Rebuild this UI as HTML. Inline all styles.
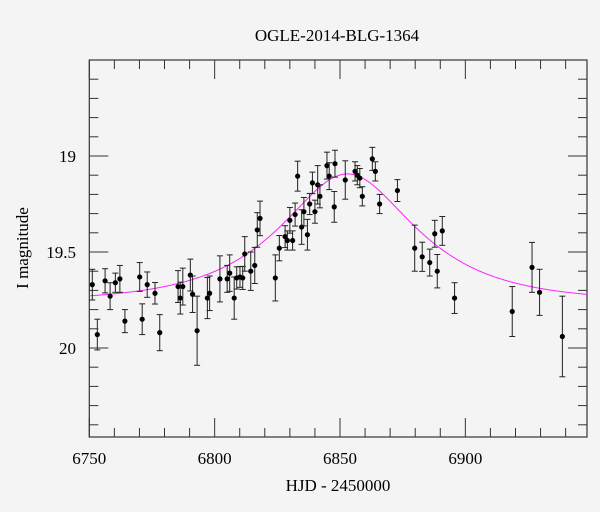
<!DOCTYPE html>
<html><head><meta charset="utf-8"><style>
body{margin:0;background:#f4f4f4;}
svg{display:block;font-family:"Liberation Serif",serif;}
</style></head><body>
<svg id="chart" width="600" height="512" viewBox="0 0 600 512">
<rect width="600" height="512" fill="#f4f4f4"/>
<text x="337" y="41" font-size="17" text-anchor="middle">OGLE-2014-BLG-1364</text>
<text x="338" y="491" font-size="17" text-anchor="middle">HJD - 2450000</text>
<text transform="translate(28,248) rotate(-90)" font-size="17" text-anchor="middle">I magnitude</text>
<g id="axes"></g>
<g id="model"></g>
<g id="points"></g>
</svg>
<script>
const times=[6751.2,6753.2,6756.3,6758.3,6760.4,6762.2,6764.2,6770.1,6771.1,6773.1,6776.2,6778.1,6785.4,6786.3,6787.3,6790.3,6791.2,6793,6797.1,6798.0,6802.1,6805.0,6806.0,6807.8,6808.8,6810.1,6811.2,6812,6814.4,6816,6817,6818.1,6824.2,6825.8,6828.1,6829,6830,6831.1,6832.1,6833.1,6834.7,6835.6,6837,6837.9,6839,6840,6841.1,6842,6844.8,6845.7,6848,6847.7,6852.1,6856,6856.9,6857.9,6858.9,6862.9,6864.1,6865.8,6872.9,6879.8,6882.8,6885.8,6887.8,6888.8,6890.8,6895.7,6918.7,6926.6,6929.6,6938.7];
const mags=[19.67,19.93,19.65,19.73,19.66,19.64,19.86,19.63,19.85,19.67,19.715,19.92,19.68,19.74,19.68,19.62,19.72,19.91,19.74,19.715,19.64,19.64,19.61,19.74,19.635,19.63,19.635,19.51,19.60,19.57,19.385,19.325,19.635,19.48,19.42,19.44,19.335,19.44,19.305,19.105,19.37,19.29,19.41,19.25,19.14,19.29,19.15,19.21,19.05,19.105,19.04,19.265,19.125,19.08,19.10,19.115,19.21,19.015,19.08,19.25,19.18,19.48,19.525,19.555,19.405,19.60,19.39,19.74,19.81,19.58,19.71,19.94];
const errs=[0.08,0.08,0.063,0.07,0.05,0.07,0.06,0.075,0.08,0.066,0.056,0.094,0.083,0.083,0.096,0.083,0.095,0.18,0.107,0.09,0.12,0.07,0.095,0.11,0.058,0.054,0.06,0.09,0.1,0.094,0.09,0.09,0.12,0.066,0.057,0.05,0.067,0.05,0.06,0.078,0.09,0.074,0.08,0.055,0.056,0.06,0.1,0.06,0.07,0.07,0.07,0.08,0.1,0.05,0.05,0.05,0.05,0.06,0.05,0.05,0.057,0.12,0.076,0.07,0.07,0.087,0.075,0.08,0.13,0.13,0.12,0.21];
const modelT0=[6853];const modelU0=[0.615];const modelTE=[42];const modelBase=[19.76];
const xTicks=[6750,6800,6850,6900];
const yTicks=[19,19.5,20];
const NS="http://www.w3.org/2000/svg";
const L=89.3,R=587,T=60,B=437;
const xs=t=>L+(t-6750)*2.507;
const ys=m=>156+(m-19)*192;
function mk(tag,attrs,parent){const e=document.createElementNS(NS,tag);for(const k in attrs)e.setAttribute(k,attrs[k]);parent.appendChild(e);return e;}
const ax=document.getElementById('axes');
const frame=mk('rect',{x:L,y:T,width:R-L,height:B-T,fill:'none',stroke:'#333','stroke-width':1.2},ax);


for(let t=6750;t<=6948;t+=10){const maj=(t%50===0);const len=maj?19:9;
 const l1=mk('line',{x1:xs(t),x2:xs(t),y1:B,y2:B-len,stroke:'#333'},ax);
 
 
 const l2=mk('line',{x1:xs(t),x2:xs(t),y1:T,y2:T+len,stroke:'#333'},ax);
 
 }
for(let i=0;i<=20;i++){const m=18.5+i*0.1;const y=ys(m);if(y<T-0.5||y>B+0.5)continue;const maj=Math.abs(m*2-Math.round(m*2))<1e-6;const len=maj?19:9;
 const l1=mk('line',{x1:L,x2:L+len,y1:y,y2:y,stroke:'#333'},ax);
 
 
 const l2=mk('line',{x1:R,x2:R-len,y1:y,y2:y,stroke:'#333'},ax);
 
 }
xTicks.forEach(t=>{const e=mk('text',{x:xs(t),y:464,'font-size':17,'text-anchor':'middle'},ax);e.textContent=t;
 
 });
yTicks.forEach(m=>{const e=mk('text',{x:76,y:ys(m)+6,'font-size':17,'text-anchor':'end'},ax);e.textContent=m;
 
 });
// model
let d='';
for(let t=6750;t<=6948.5;t+=0.5){const tau=(t-modelT0[0])/modelTE[0];const u=Math.sqrt(modelU0[0]**2+tau*tau);const A=(u*u+2)/(u*Math.sqrt(u*u+4));const m=modelBase[0]-2.5*Math.log10(A);d+=(d?'L':'M')+xs(t).toFixed(1)+','+ys(m).toFixed(1);}
const mp=mk('path',{d:d,fill:'none',stroke:'#ff22ff','stroke-width':1},document.getElementById('model'));


const pg=document.getElementById('points');
times.forEach((t,i)=>{const x=xs(t),y=ys(mags[i]),e=errs[i]*192;
 const g=mk('g',{},pg);
 
 
 mk('line',{x1:x,x2:x,y1:y-e,y2:y+e,stroke:'#222','stroke-width':1},g);
 mk('line',{x1:x-3,x2:x+3,y1:y-e,y2:y-e,stroke:'#222','stroke-width':1},g);
 mk('line',{x1:x-3,x2:x+3,y1:y+e,y2:y+e,stroke:'#222','stroke-width':1},g);
 mk('circle',{cx:x,cy:y,r:2.6,fill:'#000'},g);});
</script>
</body></html>
